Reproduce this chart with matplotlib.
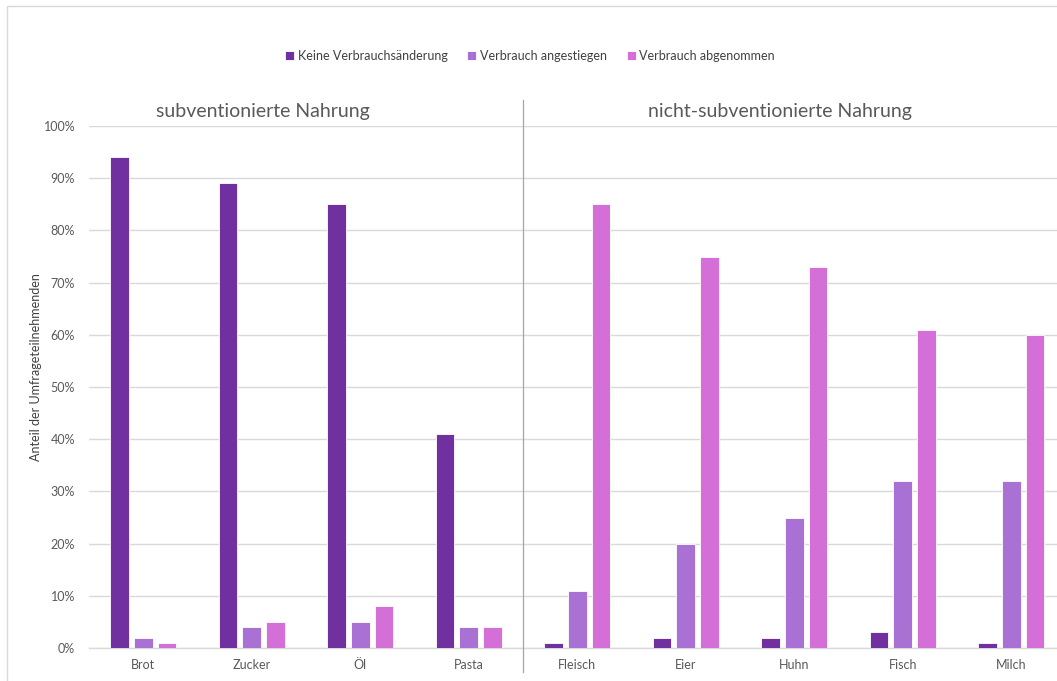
import matplotlib
matplotlib.use("Agg")
import matplotlib.pyplot as plt
import numpy as np
from matplotlib.patches import Rectangle

plt.rcParams['font.family'] = ['Lato', 'DejaVu Sans']

categories = ["Brot", "Zucker", "Öl", "Pasta", "Fleisch", "Eier", "Huhn", "Fisch", "Milch"]
keine = [94, 89, 85, 41, 1, 2, 2, 3, 1]
angestiegen = [2, 4, 5, 4, 11, 20, 25, 32, 32]
abgenommen = [1, 5, 8, 4, 85, 75, 73, 61, 60]
series_names = ["Keine Verbrauchsänderung", "Verbrauch angestiegen", "Verbrauch abgenommen"]
colors = ["#7030A0", "#A971D3", "#D36FD6"]
yticks = [0, 10, 20, 30, 40, 50, 60, 70, 80, 90, 100]
group_titles = ["subventionierte Nahrung", "nicht-subventionierte Nahrung"]

W, H = 1057, 681
fig = plt.figure(figsize=(W / 100, H / 100), dpi=100)
ax = fig.add_axes([89 / W, 33 / H, 976.5 / W, 522 / H])

x = np.arange(len(categories))
width = 0.172
off = 0.218
for i, (vals, c, name) in enumerate(zip([keine, angestiegen, abgenommen], colors, series_names)):
    ax.bar(x + (i - 1) * off, np.array(vals) / 100, width, color=c, label=name,
           edgecolor="white", linewidth=0.6, zorder=3)

ax.set_xlim(-0.5, len(categories) - 0.5)
ax.set_ylim(0, 1.0)
ax.set_yticks(np.array(yticks) / 100)
ax.set_yticklabels([f"{t}%" for t in yticks])
ax.set_xticks(x)
ax.set_xticklabels(categories)
ax.tick_params(axis='both', length=0, labelsize=9, colors="#595959")
ax.tick_params(axis='y', pad=10)
ax.tick_params(axis='x', pad=8)
ax.grid(axis='y', color="#d9d9d9", linewidth=1, zorder=0)
for s in ["top", "right", "left"]:
    ax.spines[s].set_visible(False)
ax.spines["bottom"].set_color("#d9d9d9")
ax.spines["bottom"].set_linewidth(1)

ax.set_ylabel("Anteil der Umfrageteilnehmenden", fontsize=9, color="#404040")
ax.yaxis.set_label_coords((42 - 89) / 976.5, 0.538)

# separator line between groups
ax.plot([3.5, 3.5], [1.05, -0.046], color="#a6a6a6", linewidth=0.9, clip_on=False, zorder=4)

# group titles
fig.text(263 / W, 1 - 112 / H, group_titles[0], ha="center", va="center", fontsize=14,
         color="#595959")
fig.text(780 / W, 1 - 112 / H, group_titles[1], ha="center", va="center", fontsize=14,
         color="#595959")

leg = fig.legend(loc="center", bbox_to_anchor=(530 / W, 1 - 56 / H), ncol=3, frameon=False,
                 fontsize=9, handlelength=0.7, handleheight=0.7, handletextpad=0.3,
                 columnspacing=1.6, labelcolor="#404040")

# outer frame
fig.patches.append(Rectangle((7 / W, -0.01), 1.02, 1 - 6 / H + 0.01, transform=fig.transFigure,
                             fill=False, edgecolor="#d9d9d9", linewidth=1))

fig.savefig("out.png", dpi=100, facecolor="white")
